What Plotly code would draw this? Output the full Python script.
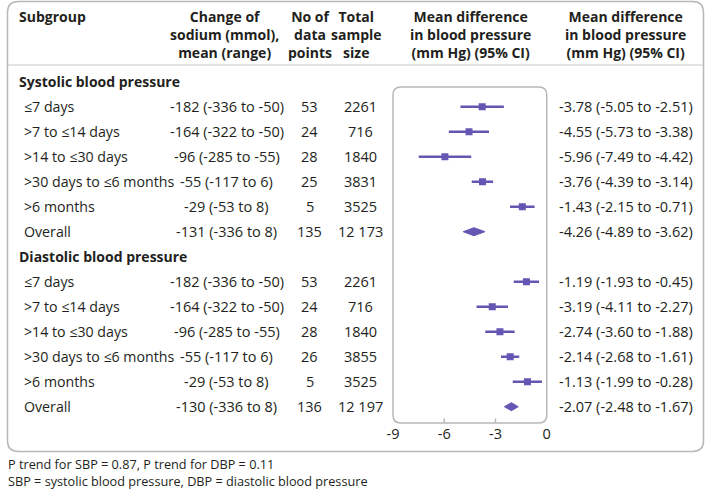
import plotly.graph_objects as go

W, H = 709, 492

# ---------------- data ----------------
subgroups = ["≤7 days", ">7 to ≤14 days", ">14 to ≤30 days", ">30 days to ≤6 months", ">6 months", "Overall"]
sections = ["Systolic blood pressure", "Diastolic blood pressure"]

sodium_mean = {"sbp": [-182, -164, -96, -55, -29, -131], "dbp": [-182, -164, -96, -55, -29, -130]}
sodium_min = {"sbp": [-336, -322, -285, -117, -53, -336], "dbp": [-336, -322, -285, -117, -53, -336]}
sodium_max = {"sbp": [-50, -50, -55, 6, 8, 8], "dbp": [-50, -50, -55, 6, 8, 8]}

n_points = {"sbp": [53, 24, 28, 25, 5, 135], "dbp": [53, 24, 28, 26, 5, 136]}
total_n = {"sbp": [2261, 716, 1840, 3831, 3525, 12173], "dbp": [2261, 716, 1840, 3855, 3525, 12197]}

md = {"sbp": [-3.78, -4.55, -5.96, -3.76, -1.43, -4.26], "dbp": [-1.19, -3.19, -2.74, -2.14, -1.13, -2.07]}
md_lo = {"sbp": [-5.05, -5.73, -7.49, -4.39, -2.15, -4.89], "dbp": [-1.93, -4.11, -3.60, -2.68, -1.99, -2.48]}
md_hi = {"sbp": [-2.51, -3.38, -4.42, -3.14, -0.71, -3.62], "dbp": [-0.45, -2.27, -1.88, -1.61, -0.28, -1.67]}

x_ticks = [-9, -6, -3, 0]
x_minor_ticks = [-6, -3]

headers = ["Subgroup", "Change of<br>sodium (mmol),<br>mean (range)", "No of<br>data<br>points",
           "Total<br>sample<br>size", "Mean difference<br>in blood pressure<br>(mm Hg) (95% CI)",
           "Mean difference<br>in blood pressure<br>(mm Hg) (95% CI)"]
footnotes = ["P trend for SBP = 0.87, P trend for DBP = 0.11",
             "SBP = systolic blood pressure, DBP = diastolic blood pressure"]

# ---------------- style ----------------
FONT = "Open Sans"
TXT = "#231f20"
PURPLE = "#6556b3"
BORDER = "#b8b8b8"
FS = 14
FSD = 14.5

ROW0 = 81.7   # pixel y of first row
ROWH = 25.0   # row spacing px


def px(x):
    return x / W


def py(y):
    return 1 - y / H


def rrect(x0, y0, x1, y1, r):
    rx, ry = r / W, r / H
    X0, X1 = px(x0), px(x1)
    Y0, Y1 = py(y0), py(y1)  # Y0 top (larger), Y1 bottom
    return (f"M {X0+rx},{Y0} L {X1-rx},{Y0} Q {X1},{Y0} {X1},{Y0-ry} "
            f"L {X1},{Y1+ry} Q {X1},{Y1} {X1-rx},{Y1} L {X0+rx},{Y1} "
            f"Q {X0},{Y1} {X0},{Y1+ry} L {X0},{Y0-ry} Q {X0},{Y0} {X0+rx},{Y0} Z")


def fmt_total(v):
    s = f"{v:,}"
    return s.replace(",", " ") if v >= 10000 else s.replace(",", "")


fig = go.Figure()
ann = []

col_change_x = 224
col_n_x = 308
col_total_x = 360
col_right_x = 559

# headers
hdr_font = dict(family=FONT, size=FS, color=TXT)
hdr_y = 5
ann.append(dict(text="<b>" + headers[0] + "</b>", x=px(11), y=py(hdr_y), xref="paper", yref="paper",
                xanchor="left", yanchor="top", showarrow=False, font=hdr_font, align="left"))
for txt, cx in zip(headers[1:], [222, 308, 356, 471, 628]):
    ann.append(dict(text="<b>" + txt.replace("<br>", "</b><br><b>") + "</b>", x=px(cx), y=py(hdr_y),
                    xref="paper", yref="paper", xanchor="center", yanchor="top", showarrow=False,
                    font=hdr_font, align="center"))

row = 0
for si, key in enumerate(["sbp", "dbp"]):
    ann.append(dict(text="<b>" + sections[si] + "</b>", x=px(11), y=row, xref="paper", yref="y",
                    xanchor="left", yanchor="middle", showarrow=False,
                    font=dict(family=FONT, size=FS, color=TXT)))
    hdr_row = row
    rows = [hdr_row + 1 + i for i in range(len(subgroups))]
    for i, r in enumerate(rows):
        f = dict(family=FONT, size=FSD, color=TXT)
        ann.append(dict(text=subgroups[i], x=px(16), y=r, xref="paper", yref="y", xanchor="left",
                        yanchor="middle", showarrow=False, font=dict(family=FONT, size=14.2, color=TXT)))
        ann.append(dict(text=f"{sodium_mean[key][i]} ({sodium_min[key][i]} to {sodium_max[key][i]})",
                        x=px(col_change_x), y=r, xref="paper", yref="y", xanchor="center",
                        yanchor="middle", showarrow=False, font=f))
        ann.append(dict(text=str(n_points[key][i]), x=px(col_n_x), y=r, xref="paper", yref="y",
                        xanchor="center", yanchor="middle", showarrow=False, font=f))
        ann.append(dict(text=fmt_total(total_n[key][i]), x=px(col_total_x), y=r, xref="paper", yref="y",
                        xanchor="center", yanchor="middle", showarrow=False, font=f))
        ann.append(dict(text=f"{md[key][i]:.2f} ({md_lo[key][i]:.2f} to {md_hi[key][i]:.2f})",
                        x=px(col_right_x), y=r, xref="paper", yref="y", xanchor="left",
                        yanchor="middle", showarrow=False, font=f))
    # study rows: squares with CI
    k = len(subgroups) - 1
    fig.add_trace(go.Scatter(
        x=md[key][:k], y=rows[:k], mode="markers",
        marker=dict(symbol="square", size=7, color=PURPLE),
        error_x=dict(type="data", symmetric=False,
                     array=[h - m for h, m in zip(md_hi[key][:k], md[key][:k])],
                     arrayminus=[m - l for m, l in zip(md[key][:k], md_lo[key][:k])],
                     thickness=2.5, width=0, color=PURPLE),
        hoverinfo="skip", showlegend=False))
    # overall diamond
    dh = 4 / ROWH
    r = rows[k]
    fig.add_trace(go.Scatter(
        x=[md_lo[key][k], md[key][k], md_hi[key][k], md[key][k], md_lo[key][k]],
        y=[r, r - dh, r, r + dh, r], mode="lines", fill="toself", fillcolor=PURPLE,
        line=dict(color=PURPLE, width=1), hoverinfo="skip", showlegend=False))
    row = rows[-1] + 1

shapes = [
    dict(type="path", path=rrect(1.5, 1.5, 707.5, 451.5, 11), xref="paper", yref="paper",
         line=dict(color=BORDER, width=1.5)),
    dict(type="line", x0=px(1.5), x1=px(707.5), y0=py(65), y1=py(65), xref="paper", yref="paper",
         line=dict(color="#c8c8c8", width=1.2)),
    dict(type="path", path=rrect(392.5, 87, 548.5, 423, 8), xref="paper", yref="paper",
         line=dict(color=BORDER, width=1.5)),
]
for t in x_minor_ticks:
    shapes.append(dict(type="line", x0=t, x1=t, y0=py(423), y1=py(418.5), xref="x", yref="paper",
                       line=dict(color=BORDER, width=1.5)))

for j, t in enumerate(footnotes):
    ann.append(dict(text=t, x=0, y=py(464 + 17 * j), xref="paper", yref="paper", xanchor="left",
                    yanchor="middle", showarrow=False, font=dict(family=FONT, size=12.7, color=TXT)))

fig.update_layout(
    width=W, height=H, margin=dict(l=0, r=0, t=0, b=0),
    paper_bgcolor="white", plot_bgcolor="rgba(0,0,0,0)",
    shapes=shapes, annotations=ann, showlegend=False,
    xaxis=dict(domain=[px(392.5), px(548.5)], range=[-9, 0], anchor="free", position=py(423),
               tickvals=x_ticks, ticktext=[str(v) for v in x_ticks], ticks="", showline=False,
               showgrid=False, zeroline=False, tickfont=dict(family=FONT, size=FSD, color=TXT),
               fixedrange=True),
    yaxis=dict(domain=[0, 1], range=[(H - ROW0) / ROWH, -ROW0 / ROWH], visible=False, fixedrange=True),
)

fig.write_html("out.html", config={"displayModeBar": False},
               post_script="document.body.style.margin='0';document.body.style.padding='0';")
